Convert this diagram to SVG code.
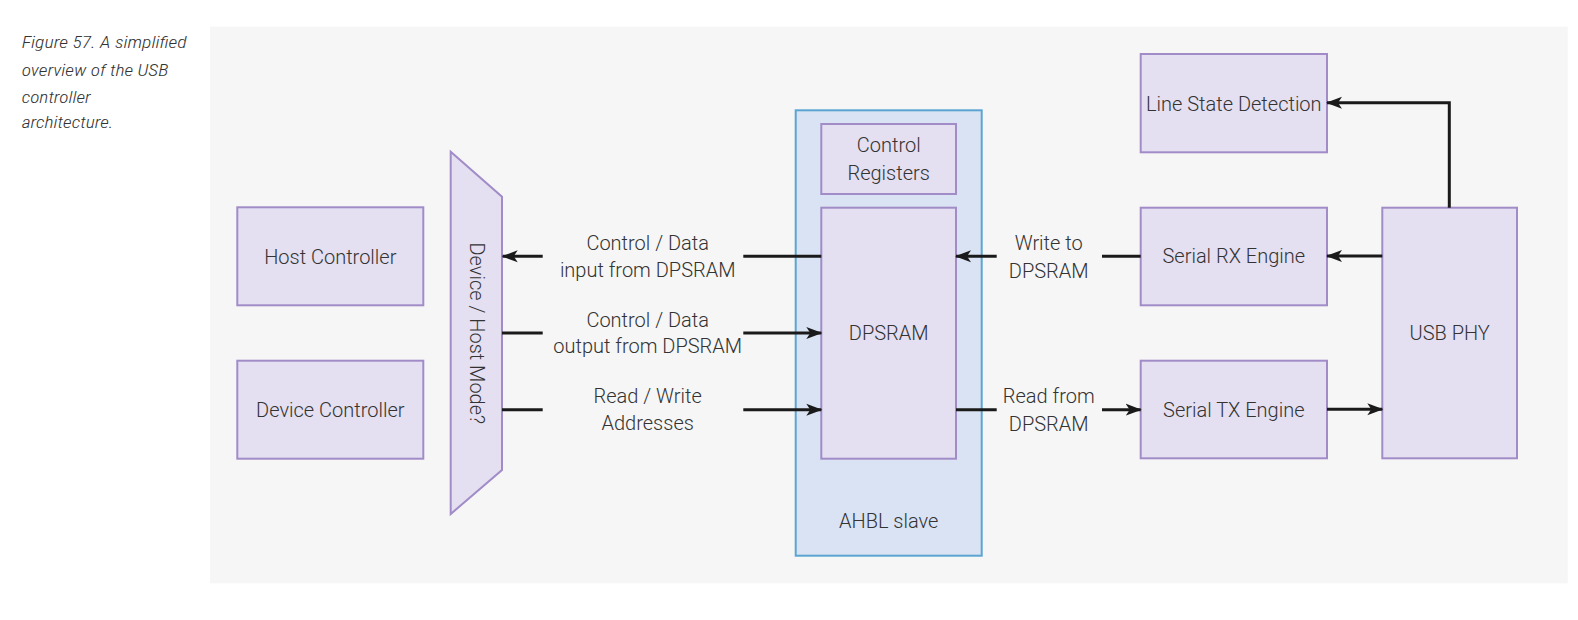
<svg xmlns="http://www.w3.org/2000/svg" width="1578" height="620" viewBox="0 0 1578 620">
<style>
.box{fill:#e4dff1;stroke:#a18cc8;stroke-width:2}
.t{font-family:"Roboto Light",Roboto,"Liberation Sans",sans-serif;font-weight:300;font-size:20px;fill:#333333;text-anchor:middle}
.cap{font-family:"Roboto Condensed","Roboto Light",Roboto,"Liberation Sans",sans-serif;font-style:italic;font-weight:300;font-size:17px;fill:#333333}
.ln{stroke:#1a1a1a;stroke-width:3;fill:none}
.arr{stroke:#1a1a1a;stroke-width:3;fill:none;marker-end:url(#ah)}
</style>
<defs>
<marker id="ah" markerWidth="17" markerHeight="14" refX="15" refY="7" orient="auto" markerUnits="userSpaceOnUse">
<path d="M0,1 L16,7 L0,13 L4,7 Z" fill="#1a1a1a"/>
</marker>
</defs>
<rect x="0" y="0" width="1578" height="620" fill="#ffffff"/>
<rect x="210" y="26.7" width="1357.7" height="556.6" fill="#f6f6f6"/>
<g id="caption">
<text class="cap" x="21.7" y="48.3" textLength="165" lengthAdjust="spacingAndGlyphs">Figure 57. A simplified</text>
<text class="cap" x="21.7" y="75.7" textLength="146.6" lengthAdjust="spacingAndGlyphs">overview of the USB</text>
<text class="cap" x="21.7" y="102.7" textLength="69" lengthAdjust="spacingAndGlyphs">controller</text>
<text class="cap" x="21.7" y="128.3" textLength="91.6" lengthAdjust="spacingAndGlyphs">architecture.</text>
</g>
<g id="ahbl-slave">
<rect x="795.7" y="110.3" width="186" height="445.4" fill="#dae3f3" stroke="#5aa5d2" stroke-width="2"/>
<text class="t" x="888.7" y="527.7">AHBL slave</text>
</g>
<g id="host-controller">
<rect class="box" x="237.3" y="207.3" width="186" height="98"/>
<text class="t" x="330.3" y="264">Host Controller</text>
</g>
<g id="device-controller">
<rect class="box" x="237.3" y="360.7" width="186" height="98"/>
<text class="t" x="330.3" y="416.7">Device Controller</text>
</g>
<g id="mode-mux">
<polygon class="box" points="450.7,151.7 502,196.7 502,470 450.7,514"/>
<text class="t" transform="translate(476.7,333.3) rotate(90)" x="0" y="7">Device / Host Mode?</text>
</g>
<g id="control-registers">
<rect class="box" x="821.3" y="124" width="134.7" height="70"/>
<text class="t" x="888.7" y="152.3">Control</text>
<text class="t" x="888.7" y="180">Registers</text>
</g>
<g id="dpsram">
<rect class="box" x="821.3" y="207.7" width="134.7" height="251"/>
<text class="t" x="888.7" y="340">DPSRAM</text>
</g>
<g id="line-state-detection">
<rect class="box" x="1140.7" y="54" width="186.3" height="98.3"/>
<text class="t" x="1233.8" y="110.7">Line State Detection</text>
</g>
<g id="serial-rx-engine">
<rect class="box" x="1140.7" y="207.7" width="186.3" height="97.6"/>
<text class="t" x="1233.8" y="263.3">Serial RX Engine</text>
</g>
<g id="serial-tx-engine">
<rect class="box" x="1140.7" y="360.7" width="186.3" height="97.6"/>
<text class="t" x="1233.8" y="416.7">Serial TX Engine</text>
</g>
<g id="usb-phy">
<rect class="box" x="1382.3" y="207.7" width="134.7" height="250.6"/>
<text class="t" x="1449.7" y="340">USB PHY</text>
</g>
<g id="connectors">
<line class="ln" x1="821.3" y1="256.3" x2="743.3" y2="256.3"/>
<line class="arr" x1="542.7" y1="256.3" x2="502.7" y2="256.3"/>
<text class="t" x="647.7" y="250">Control / Data</text>
<text class="t" x="647.7" y="276.7">input from DPSRAM</text>
<line class="ln" x1="502" y1="333" x2="542.7" y2="333"/>
<line class="arr" x1="743.3" y1="333" x2="821.3" y2="333"/>
<text class="t" x="647.7" y="326.7">Control / Data</text>
<text class="t" x="647.7" y="353.3">output from DPSRAM</text>
<line class="ln" x1="502" y1="409.7" x2="542.7" y2="409.7"/>
<line class="arr" x1="743.3" y1="409.7" x2="821.3" y2="409.7"/>
<text class="t" x="647.7" y="403.3">Read / Write</text>
<text class="t" x="647.7" y="430">Addresses</text>
<line class="ln" x1="1140.7" y1="256.3" x2="1102" y2="256.3"/>
<line class="arr" x1="996.7" y1="256.3" x2="956" y2="256.3"/>
<text class="t" x="1048.7" y="250">Write to</text>
<text class="t" x="1048.7" y="277.7">DPSRAM</text>
<line class="ln" x1="956" y1="409.7" x2="996.7" y2="409.7"/>
<line class="arr" x1="1102" y1="409.7" x2="1140.7" y2="409.7"/>
<text class="t" x="1048.7" y="403.3">Read from</text>
<text class="t" x="1048.7" y="431">DPSRAM</text>
<line class="arr" x1="1382.3" y1="256" x2="1327" y2="256"/>
<line class="arr" x1="1327" y1="409.3" x2="1382.3" y2="409.3"/>
<polyline class="arr" points="1449.3,207.7 1449.3,102.7 1327,102.7"/>
</g>
</svg>
